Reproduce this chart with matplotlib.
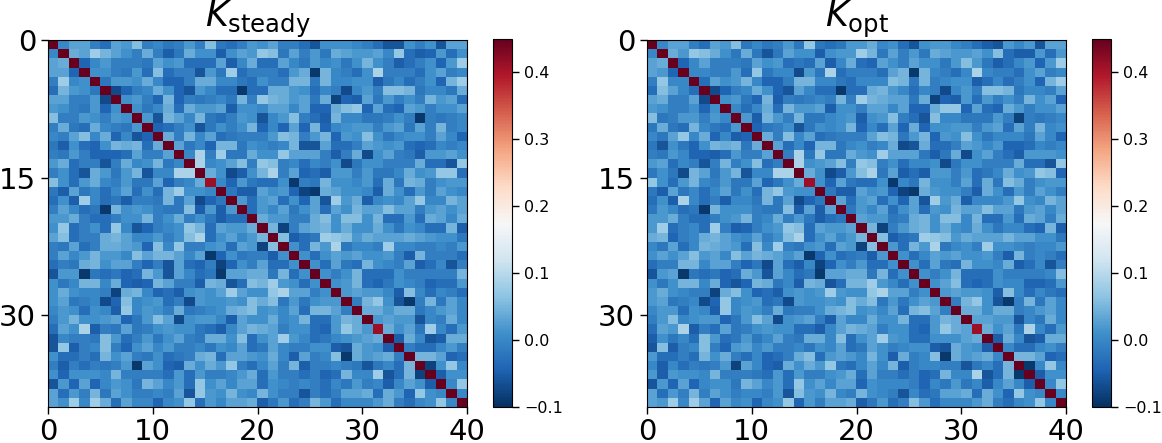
import numpy as np
import matplotlib
matplotlib.use('Agg')
import matplotlib.pyplot as plt
from matplotlib.colors import LinearSegmentedColormap

# upper triangles, in hundredths, row i holds columns i+1..39
steady_rows = [
    [0,3,3,-1,-3,3,2,6,-1,0,-2,-1,2,-1,6,-2,-3,-1,2, 1,3,-1,-1,-3,-6,1,1,1,0,-1,-3,-6,-6,1,-1,1,-6,3,3],
    [4,3,8,5,3,1,-1,4,-1,-5,-2,4,1,1,-5,1,3,2, 7,6,-2,3,-1,2,-2,4,3,2,2,3,0,7,-3,-5,-4,2,-3,1],
    [-4,0,2,-1,-1,-1,-2,3,1,2,-3,-3,-3,3,-5,0,4, -3,-3,3,0,-2,2,0,1,-2,1,5,1,-1,-5,-3,-1,1,-4,2,8],
    [1,1,-1,-2,2,-3,6,-3,-1,-1,-6,2,-2,8,-3,-1, -1,-1,-3,2,4,-9,5,0,-1,-3,1,9,-1,-1,-1,-3,1,3,-1,0],
    [-2,2,2,1,4,0,-4,-4,-1,4,4,0,0,-2,-3, 1,-1,-1,5,5,-2,5,0,0,1,1,-5,-2,0,-3,-1,1,-4,5,8],
    [-7,-4,-1,0,4,1,-4,-6,2,0,-3,-3,-9,-3, -3,4,4,2,1,-3,0,-1,-7,0,2,-1,6,6,5,-2,0,0,-2,4],
    [1,2,-1,-4,5,-4,-1,-2,-1,0,-2,5,-1, 7,5,4,2,3,-2,4,-8,-4,-5,3,-2,2,-1,1,-1,5,2,3,-3],
    [1,-2,0,4,-3,4,2,2,3,-5,1,1, 0,3,3,0,3,-4,-4,4,6,7,-4,3,-3,-4,3,2,-1,1,1,3],
    [2,-6,5,3,0,5,-2,-3,-1,2,1, -6,0,2,6,-1,-3,-5,5,0,0,-2,-2,-1,1,-1,-9,-1,-2,-1,0],
    [-4,-3,-1,1,-6,-2,1,-1,1,5, -4,0,-4,3,-4,5,-4,0,1,2,2,-1,2,3,-2,3,-1,5,-1,0],
    [4,-1,5,0,3,-3,-2,-1,-1, -1,2,6,5,-1,2,5,-4,2,1,6,1,-2,0,1,1,-1,3,0,-4],
    [3,-2,0,-4,5,5,-2,1, 0,-1,0,5,-6,-6,3,-3,-3,-1,3,2,1,2,-3,-4,-3,0,-1,0],
    [0,9,-1,8,-2,-2,4, 1,1,7,3,3,3,-1,-5,-1,4,-7,1,3,-1,-2,-5,2,2,3,1],
    [9,0,1,3,6,-1, 7,6,-1,0,-3,0,-1,1,-7,-2,1,1,-1,-1,-1,4,-3,-3,-6,7],
    [4,1,-7,-5,1, 5,9,-1,3,-4,-3,-5,2,2,-1,2,-2,-2,0,4,1,2,7,7,-3],
    [0,-4,2,-2, -3,-3,1,-9,-1,-2,5,1,1,0,2,-3,4,-2,5,4,-1,1,2,2],
    [-2,-5,-5, 3,1,2,-4,-8,-9,4,3,1,1,0,-5,4,1,-3,2,-1,3,1,0],
    [2,-3, 2,3,-3,1,-4,3,-6,8,2,4,-5,0,1,0,3,7,0,0,5,3],
    [-3, 2,0,3,-2,1,3,-3,3,1,5,3,3,6,3,3,-1,2,3,1,3],
    [4,2,2,-1,-1,4,6,1,6,6,1,5,-3,-3,2,-3,4,3,0,4],
    [5,-8,-1,3,4,5,1,4,1,1,4,1,-2,1,0,-3,-3,5,-5],
    [6,-5,-3,-2,8,7,6,2,4,3,3,3,4,3,2,1,1,-2],
    [1,-3,5,2,9,-2,0,0,-1,8,0,0,-1,-1,0,-1,2],
    [1,-3,1,3,2,3,1,1,2,-1,-5,5,-1,-1,-1,-3],
    [1,-3,3,-2,-3,5,1,0,-1,3,-5,-3,0,-6,-1],
    [1,-1,1,5,-3,-3,-3,1,-1,-1,-1,-1,-1,5],
    [1,2,5,-3,-4,-2,1,0,-1,-4,-3,-3,2],
    [2,3,2,2,0,-5,6,0,-3,0,-1,-3],
    [-1,5,7,1,-6,-9,-1,5,-2,3,0],
    [4,4,2,4,4,-2,0,2,3,0],
    [2,3,2,2,-6,0,-1,4,0],
    [4,1,3,-2,8,0,-3,2],
    [-5,4,0,-6,-5,4,4],
    [-1,-3,-3,0,2,-1],
    [5,5,3,-4,-3],
    [-8,1,7,0],
    [-5,1,1],
    [0,7],
    [0],
]

opt_rows = [
    [0,3,3,-1,-3,3,2,6,-2,0,-2,-1,2,-2,7,-2,-3,-2,2, 2,4,0,1,-3,-6,1,2,2,0,-1,-3,-5,-6,2,0,2,-6,3,3],
    [4,2,7,6,4,1,-2,4,-2,-6,-2,3,1,1,-5,1,2,2, 8,5,-2,3,-1,2,-2,4,3,2,2,3,1,6,-3,-5,-5,2,-3,2],
    [-4,0,3,-1,-1,-1,-2,3,1,2,-3,-2,-3,3,-5,0,4, -3,-4,3,1,-1,3,1,1,-2,2,6,2,-2,-5,-3,0,2,-4,2,8],
    [0,0,-1,-1,2,-3,7,-2,0,0,-7,2,-2,9,-3,-1, -1,-1,-3,3,5,-9,5,0,-1,-3,0,9,0,-1,-1,-3,1,3,-1,0],
    [-3,3,1,2,5,0,-4,-4,-1,5,5,0,0,-2,-3, 0,0,0,6,5,-2,5,-1,0,1,1,-5,-3,0,-3,-1,1,-4,5,8],
    [-7,-4,-1,0,4,1,-4,-6,3,0,-3,-3,-9,-3, -3,4,5,2,0,-3,0,-1,-7,0,2,-1,6,6,5,-2,0,0,-1,3],
    [1,2,-2,-4,5,-5,-1,-2,-1,0,-1,5,-1, 8,5,4,3,3,-2,4,-8,-4,-5,2,-3,2,-1,1,-1,5,1,3,-4],
    [0,-3,0,4,-3,5,2,2,3,-5,1,1, -1,3,3,0,3,-4,-4,4,7,7,-4,3,-3,-4,4,2,-1,1,1,3],
    [2,-5,5,2,-1,5,-2,-2,0,1,2, -5,1,2,6,-1,-3,-6,6,0,0,-2,-2,-2,2,-1,-8,-1,-2,-1,0],
    [-4,-2,-1,1,-6,-2,1,0,1,5, -4,0,-3,3,-4,4,-4,1,1,2,2,-1,2,3,-3,3,-1,5,0,1],
    [4,-1,6,0,3,-3,-2,-1,-1, -1,3,6,5,-2,2,5,-4,2,1,6,1,-2,0,0,0,-2,3,0,-4],
    [3,-3,0,-4,5,5,-2,0, 1,-1,0,4,-7,-6,4,-3,-3,-1,3,2,0,2,-4,-4,-3,0,-1,0],
    [-1,9,-2,7,-2,-2,4, 2,1,8,3,3,3,-2,-5,-2,4,-7,1,3,-1,-3,-5,2,2,2,1],
    [9,1,2,3,6,-1, 7,6,-1,1,-3,0,0,1,-7,-2,1,1,-1,-1,-1,4,-3,-3,-6,7],
    [4,1,-7,-5,2, 6,9,-2,3,-5,-3,-5,2,2,-1,2,-3,-2,0,4,1,2,7,6,-4],
    [1,-4,3,-2, -3,-3,1,-9,0,-2,5,1,1,-1,3,-3,4,-2,6,4,-1,1,2,2],
    [-2,-5,-5, 3,1,2,-4,-8,-9,4,2,1,1,-1,-5,4,1,-3,2,-1,3,1,-1],
    [3,-3, 2,3,-3,1,-4,3,-6,8,2,4,-5,0,0,0,2,7,1,0,5,3],
    [-2, 2,0,3,-3,1,3,-3,2,1,5,3,3,6,3,3,-2,2,3,0,3],
    [3,2,2,-2,-1,4,5,1,6,6,0,5,-3,-3,2,-3,4,3,-1,4],
    [5,-8,-1,2,4,5,1,4,1,0,4,1,-2,0,0,-3,-4,5,-5],
    [6,-5,-3,-2,8,7,6,2,4,3,3,3,5,3,3,1,1,-2],
    [2,-3,5,2,9,-2,0,1,-1,8,1,1,0,-1,0,0,2],
    [1,-3,0,3,2,3,1,1,2,-1,-5,5,-1,0,-1,-3],
    [1,-3,3,-2,-3,5,1,1,0,4,-5,-3,0,-6,-1],
    [1,-1,1,5,-3,-3,-3,1,-1,-1,-1,-1,0,6],
    [1,3,6,-3,-4,-3,1,0,0,-4,-4,-3,2],
    [2,3,2,2,1,-5,6,0,-3,0,-2,-3],
    [-1,5,7,1,-6,-9,-1,5,-2,3,0],
    [4,4,1,4,4,-1,0,2,3,0],
    [3,3,2,2,-6,0,-2,4,0],
    [4,1,3,-2,9,0,-3,2],
    [-5,4,0,-6,-5,4,4],
    [0,-3,-3,0,1,-1],
    [5,5,3,-4,-3],
    [-9,0,7,0],
    [-5,1,1],
    [0,7],
    [0],
]

# the diagonal is 0.45 apart from two slightly lighter cells
diag_steady = [45]*15 + [41] + [45]*15 + [41] + [45]*8
diag_opt = [45]*15 + [41] + [45]*15 + [41] + [45]*8

titles = [r'$K_{\rm steady}$', r'$K_{\rm opt}$']
x_ticks = [0, 10, 20, 30, 40]
y_ticks = [0, 15, 30]
cbar_ticks = [-0.1, 0.0, 0.1, 0.2, 0.3, 0.4]

# RdBu_r with a slightly more saturated blue side, closer to the picture
cmap_colors = ['#053061', '#1f63b3', '#3f90cb', '#8ec4e3', '#d1e5f0', '#f7f7f7',
               '#fddbc7', '#f4a582', '#d6604d', '#b2182b', '#67001f']


def build(rows, diag):
    K = np.diag(np.array(diag, dtype=float))
    for i, row in enumerate(rows):
        K[i, i + 1:] = row
        K[i + 1:, i] = row
    return K / 100.0


W, H = 1162.0, 443.0


def px_axes(fig, x0, y0, x1, y1):
    return fig.add_axes([x0 / W, 1 - y1 / H, (x1 - x0) / W, (y1 - y0) / H])


if __name__ == '__main__':
    fig = plt.figure(figsize=(W / 100, H / 100), dpi=100)
    cmap = LinearSegmentedColormap.from_list('rdbu_blue', cmap_colors)
    panels = [(build(steady_rows, diag_steady), 48, 493), (build(opt_rows, diag_opt), 647, 1092)]

    for (K, x0, cx0), title in zip(panels, titles):
        ax = px_axes(fig, x0, 40, x0 + 419, 407)
        im = ax.imshow(K, cmap=cmap, vmin=-0.1, vmax=0.45, aspect='auto',
                       extent=(0, 40, 40, 0), interpolation='nearest')
        ax.set_xticks(x_ticks)
        ax.set_yticks(y_ticks)
        ax.tick_params(labelsize=21, length=5, width=1)
        ax.tick_params(axis='x', pad=3)
        ax.set_title(title, fontsize=25, pad=3)

        cax = px_axes(fig, cx0, 39, cx0 + 19, 407)
        cb = fig.colorbar(im, cax=cax)
        cb.set_ticks(cbar_ticks)
        cb.ax.tick_params(labelsize=11.5, length=5, width=1)

    plt.savefig('out.png', dpi=100)
